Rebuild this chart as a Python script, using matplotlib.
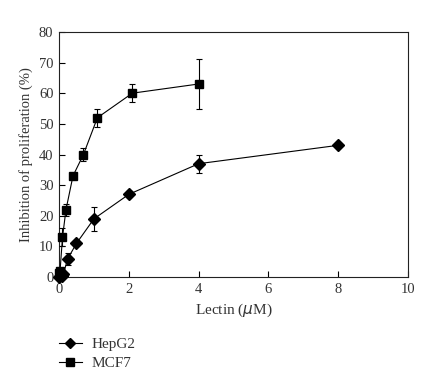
import numpy as np
import matplotlib
matplotlib.use('Agg')
import matplotlib.pyplot as plt
from matplotlib.lines import Line2D

# Data
hep_x = [0, 0.1, 0.125, 0.25, 0.5, 1, 2, 4, 8]
hep_y = [0, 0.5, 1, 6, 11, 19, 27, 37, 43]
hep_err = [0, 0, 0, 2, 0.5, 4, 1, 3, 0.5]

mcf_x = [0, 0.03, 0.1, 0.2, 0.4, 0.7, 1.1, 2.1, 4]
mcf_y = [1.5, 2, 13, 22, 33, 40, 52, 60, 63]
mcf_err = [0, 0, 3, 2, 0.5, 2, 3, 3, 8]

plt.rcParams['font.family'] = ['Liberation Serif', 'DejaVu Serif']
txt = '#333333'

fig = plt.figure(figsize=(4.47, 3.75), dpi=100)
ax = fig.add_axes([0.132, 0.261, 0.781, 0.654])

ax.errorbar(hep_x, hep_y, yerr=hep_err, color='black', marker='D', ms=6,
            lw=0.8, elinewidth=0.8, capsize=2.5, capthick=0.8,
            clip_on=False, zorder=3)
ax.errorbar(mcf_x, mcf_y, yerr=mcf_err, color='black', marker='s', ms=6.3,
            lw=0.8, elinewidth=0.8, capsize=2.5, capthick=0.8,
            clip_on=False, zorder=3)

ax.set_xlim(0, 10)
ax.set_ylim(0, 80)
ax.set_xticks(range(0, 11, 2))
ax.set_yticks(range(0, 81, 10))
ax.tick_params(direction='in', length=4, width=0.8, labelsize=10.5,
               colors='black', labelcolor=txt, pad=4)
for s in ax.spines.values():
    s.set_linewidth(0.8)
    s.set_color('#222222')

ax.set_xlabel(r'Lectin ($\mu$M)', fontsize=11, color=txt, labelpad=4)
ax.set_ylabel('Inhibition of proliferation (%)', fontsize=10.5, color=txt,
              labelpad=4)

handles = [Line2D([], [], color='black', marker='D', ms=5.5, lw=0.8),
           Line2D([], [], color='black', marker='s', ms=6, lw=0.8)]
labels = ['HepG2', 'MCF7']
fig.legend(handles, labels, loc='upper left', bbox_to_anchor=(0.132, 0.100),
           frameon=False, fontsize=11, labelcolor=txt, handlelength=1.5,
           handletextpad=0.65, borderaxespad=0, borderpad=0, labelspacing=0.35)

plt.savefig('out.png', dpi=100)
